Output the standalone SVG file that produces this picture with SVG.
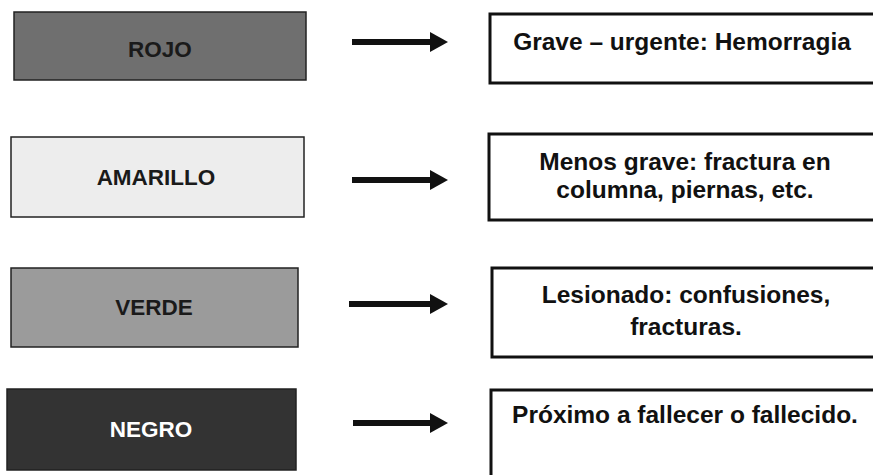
<svg xmlns="http://www.w3.org/2000/svg" width="873" height="475" viewBox="0 0 873 475">
<style>
.lbox{stroke:#222;stroke-width:1.5}
.rbox{fill:#fff;stroke:#111;stroke-width:3}
.lt{font-family:"Liberation Sans",Arial,sans-serif;font-weight:bold;font-size:22.5px;text-anchor:middle;fill:#1a1a1a}
.rt{font-family:"Liberation Sans",Arial,sans-serif;font-weight:bold;font-size:24.5px;text-anchor:middle;fill:#111}
.conn{stroke:#111;stroke-width:6;fill:none}
</style>
<defs>
<marker id="ah" markerUnits="userSpaceOnUse" markerWidth="18" markerHeight="20" refX="2" refY="10" orient="auto">
<path d="M0,0 L18,10 L0,20 z" fill="#111"/>
</marker>
</defs>
<rect width="873" height="475" fill="#fff"/>
<g id="rojo"><rect class="lbox" x="14" y="12" width="292" height="68" fill="#6f6f6f"/><text class="lt" x="160" y="57">ROJO</text></g>
<g id="amarillo"><rect class="lbox" x="11" y="137" width="293" height="80" fill="#ededed"/><text class="lt" x="156" y="185">AMARILLO</text></g>
<g id="verde"><rect class="lbox" x="11" y="268" width="287" height="79" fill="#9b9b9b"/><text class="lt" x="154" y="315">VERDE</text></g>
<g id="negro"><rect class="lbox" x="7" y="389" width="289" height="81" fill="#333"/><text class="lt" x="151" y="437" style="fill:#fff">NEGRO</text></g>
<g id="grave"><rect class="rbox" x="490" y="14" width="385" height="69"/><text class="rt" x="682" y="50">Grave – urgente: Hemorragia</text></g>
<g id="menos"><rect class="rbox" x="489" y="134" width="386" height="86"/><text class="rt" x="685" y="170">Menos grave: fractura en</text><text class="rt" x="685" y="198">columna, piernas, etc.</text></g>
<g id="lesionado"><rect class="rbox" x="492" y="268" width="383" height="89"/><text class="rt" x="686" y="303">Lesionado: confusiones,</text><text class="rt" x="686" y="335">fracturas.</text></g>
<g id="proximo"><rect class="rbox" x="491" y="390" width="384" height="90"/><text class="rt" x="685" y="423">Próximo a fallecer o fallecido.</text></g>
<g id="connectors">
<line class="conn" x1="352" y1="42" x2="432" y2="42" marker-end="url(#ah)"/>
<line class="conn" x1="352" y1="180" x2="432" y2="180" marker-end="url(#ah)"/>
<line class="conn" x1="349" y1="304" x2="432" y2="304" marker-end="url(#ah)"/>
<line class="conn" x1="353" y1="423" x2="432" y2="423" marker-end="url(#ah)"/>
</g>
</svg>
